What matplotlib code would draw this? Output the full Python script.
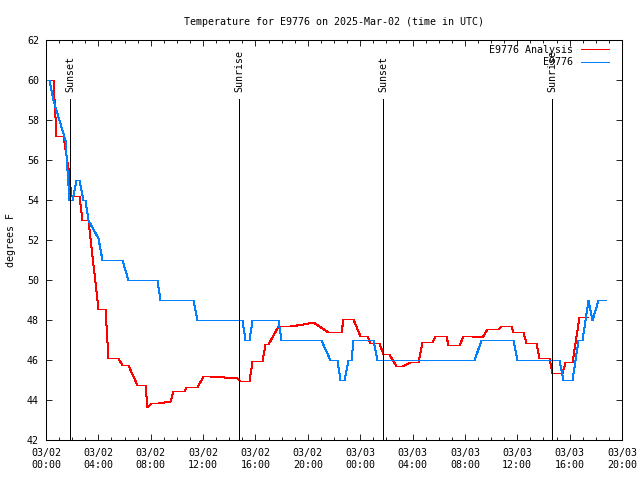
import matplotlib
matplotlib.use('Agg')
import matplotlib.pyplot as plt

# hours since 03/02 00:00 UTC, and temperature in F
anl_hours = [0, 0.53, 0.76, 1.30, 1.68, 1.91, 2.52, 2.75, 3.21, 3.97, 4.51, 4.74, 5.50, 5.81,
             6.26, 6.95, 7.56, 7.72, 8.02, 8.56, 9.47, 9.70, 10.54, 10.70, 11.54, 11.99, 12.53,
             14.59, 14.82, 15.51, 15.74, 16.50, 16.73, 16.96, 17.72, 18.64, 19.63, 20.40, 21.54,
             22.54, 22.69, 23.45, 23.99, 24.52, 24.75, 25.44, 25.75, 26.20, 26.74, 27.20, 27.81,
             28.42, 28.72, 29.49, 29.72, 30.56, 30.71, 31.55, 31.86, 32.54, 33.31, 33.69, 34.53,
             34.76, 35.52, 35.68, 36.44, 36.67, 37.43, 37.66, 38.43, 38.66, 39.42, 39.65, 40.18,
             40.72, 41.41]
anl_temp = [60, 60, 57.2, 57.2, 55.6, 54.2, 54.2, 53.0, 53.0, 48.55, 48.55, 46.1, 46.1, 45.75,
            45.75, 44.75, 44.75, 43.67, 43.85, 43.85, 43.95, 44.45, 44.45, 44.65, 44.65, 45.2, 45.2,
            45.1, 44.95, 44.95, 45.95, 45.95, 46.8, 46.8, 47.7, 47.7, 47.8, 47.9, 47.4,
            47.4, 48.05, 48.05, 47.2, 47.2, 46.85, 46.85, 46.3, 46.3, 45.7, 45.7, 45.9,
            45.9, 46.9, 46.9, 47.2, 47.2, 46.75, 46.75, 47.2, 47.2, 47.15, 47.55, 47.55,
            47.7, 47.7, 47.4, 47.4, 46.85, 46.85, 46.1, 46.1, 45.35, 45.35, 45.9, 45.9,
            48.15, 48.15]

obs_hours = [0, 0.23, 0.53, 1.45, 1.76, 1.99, 2.29, 2.52, 2.83, 2.98, 3.21, 3.97, 4.28, 5.81,
             6.26, 8.48, 8.71, 11.23, 11.54, 14.97, 15.20, 15.51, 15.74, 17.72, 17.95, 21.01,
             21.70, 22.23, 22.46, 22.77, 23.07, 23.30, 23.45, 24.98, 25.29, 32.70, 33.23, 35.68,
             35.98, 39.19, 39.50, 40.18, 40.64, 40.95, 41.18, 41.41, 41.71, 42.17, 42.78]
obs_temp = [60, 60, 59, 57, 54, 54, 55, 55, 54, 54, 53, 52.1, 51, 51,
            50, 50, 49, 49, 48, 48, 47, 47, 48, 48, 47, 47,
            46, 46, 45, 45, 46, 46, 47, 47, 46, 46, 47, 47,
            46, 46, 45, 45, 47, 47, 48, 49, 48, 49, 49]

sun_hours = [1.83, 14.74, 25.74, 38.65]
sun_names = ['Sunset', 'Sunrise', 'Sunset', 'Sunrise']

tick_hours = list(range(0, 45, 4))
tick_labels = ['03/02\n00:00', '03/02\n04:00', '03/02\n08:00', '03/02\n12:00', '03/02\n16:00',
               '03/02\n20:00', '03/03\n00:00', '03/03\n04:00', '03/03\n08:00', '03/03\n12:00',
               '03/03\n16:00', '03/03\n20:00']

FS = 7.2
plt.rcParams['font.family'] = 'DejaVu Sans Mono'
plt.rcParams['font.size'] = FS

fig = plt.figure(figsize=(6.4, 4.8), dpi=100)
ax = fig.add_axes([46 / 640, 40 / 480, 576 / 640, 400 / 480])

ax.plot(anl_hours, anl_temp, color='#ff0000', lw=0.72, label='E9776 Analysis',
        antialiased=False, snap=True)
ax.plot(obs_hours, obs_temp, color='#0080ff', lw=0.72, label='E9776',
        antialiased=False, snap=True)

for h, name in zip(sun_hours, sun_names):
    ax.vlines(h, 42, 59.05, color='black', lw=0.6, antialiased=False)
    ax.text(h, 59.4, name, rotation=90, ha='center', va='bottom', fontsize=FS)

ax.set_xlim(0, 44)
ax.set_ylim(42, 62)
ax.set_xticks(tick_hours)
ax.set_xticklabels(tick_labels)
ax.set_xticks(range(0, 45), minor=True)
ax.set_yticks(range(42, 63, 2))
ax.tick_params(which='both', direction='in', top=True, right=True, labelsize=FS)
ax.tick_params(which='major', length=4.5, width=0.6)
ax.tick_params(which='minor', length=2.5, width=0.6)
ax.tick_params(axis='x', pad=6)
ax.tick_params(axis='y', pad=5)
for s in ax.spines.values():
    s.set_linewidth(0.75)

ax.set_title('Temperature for E9776 on 2025-Mar-02 (time in UTC)', pad=11, fontsize=FS)
ax.set_ylabel('degrees F', labelpad=8, fontsize=FS)

ax.legend(loc='upper right', bbox_to_anchor=(1 - 4 / 576, 1 + 4 / 400), frameon=False,
          markerfirst=False, handlelength=2.8, labelspacing=0.25, borderaxespad=0.5,
          handletextpad=0.8, fontsize=FS)

fig.savefig('out.png', dpi=100)
